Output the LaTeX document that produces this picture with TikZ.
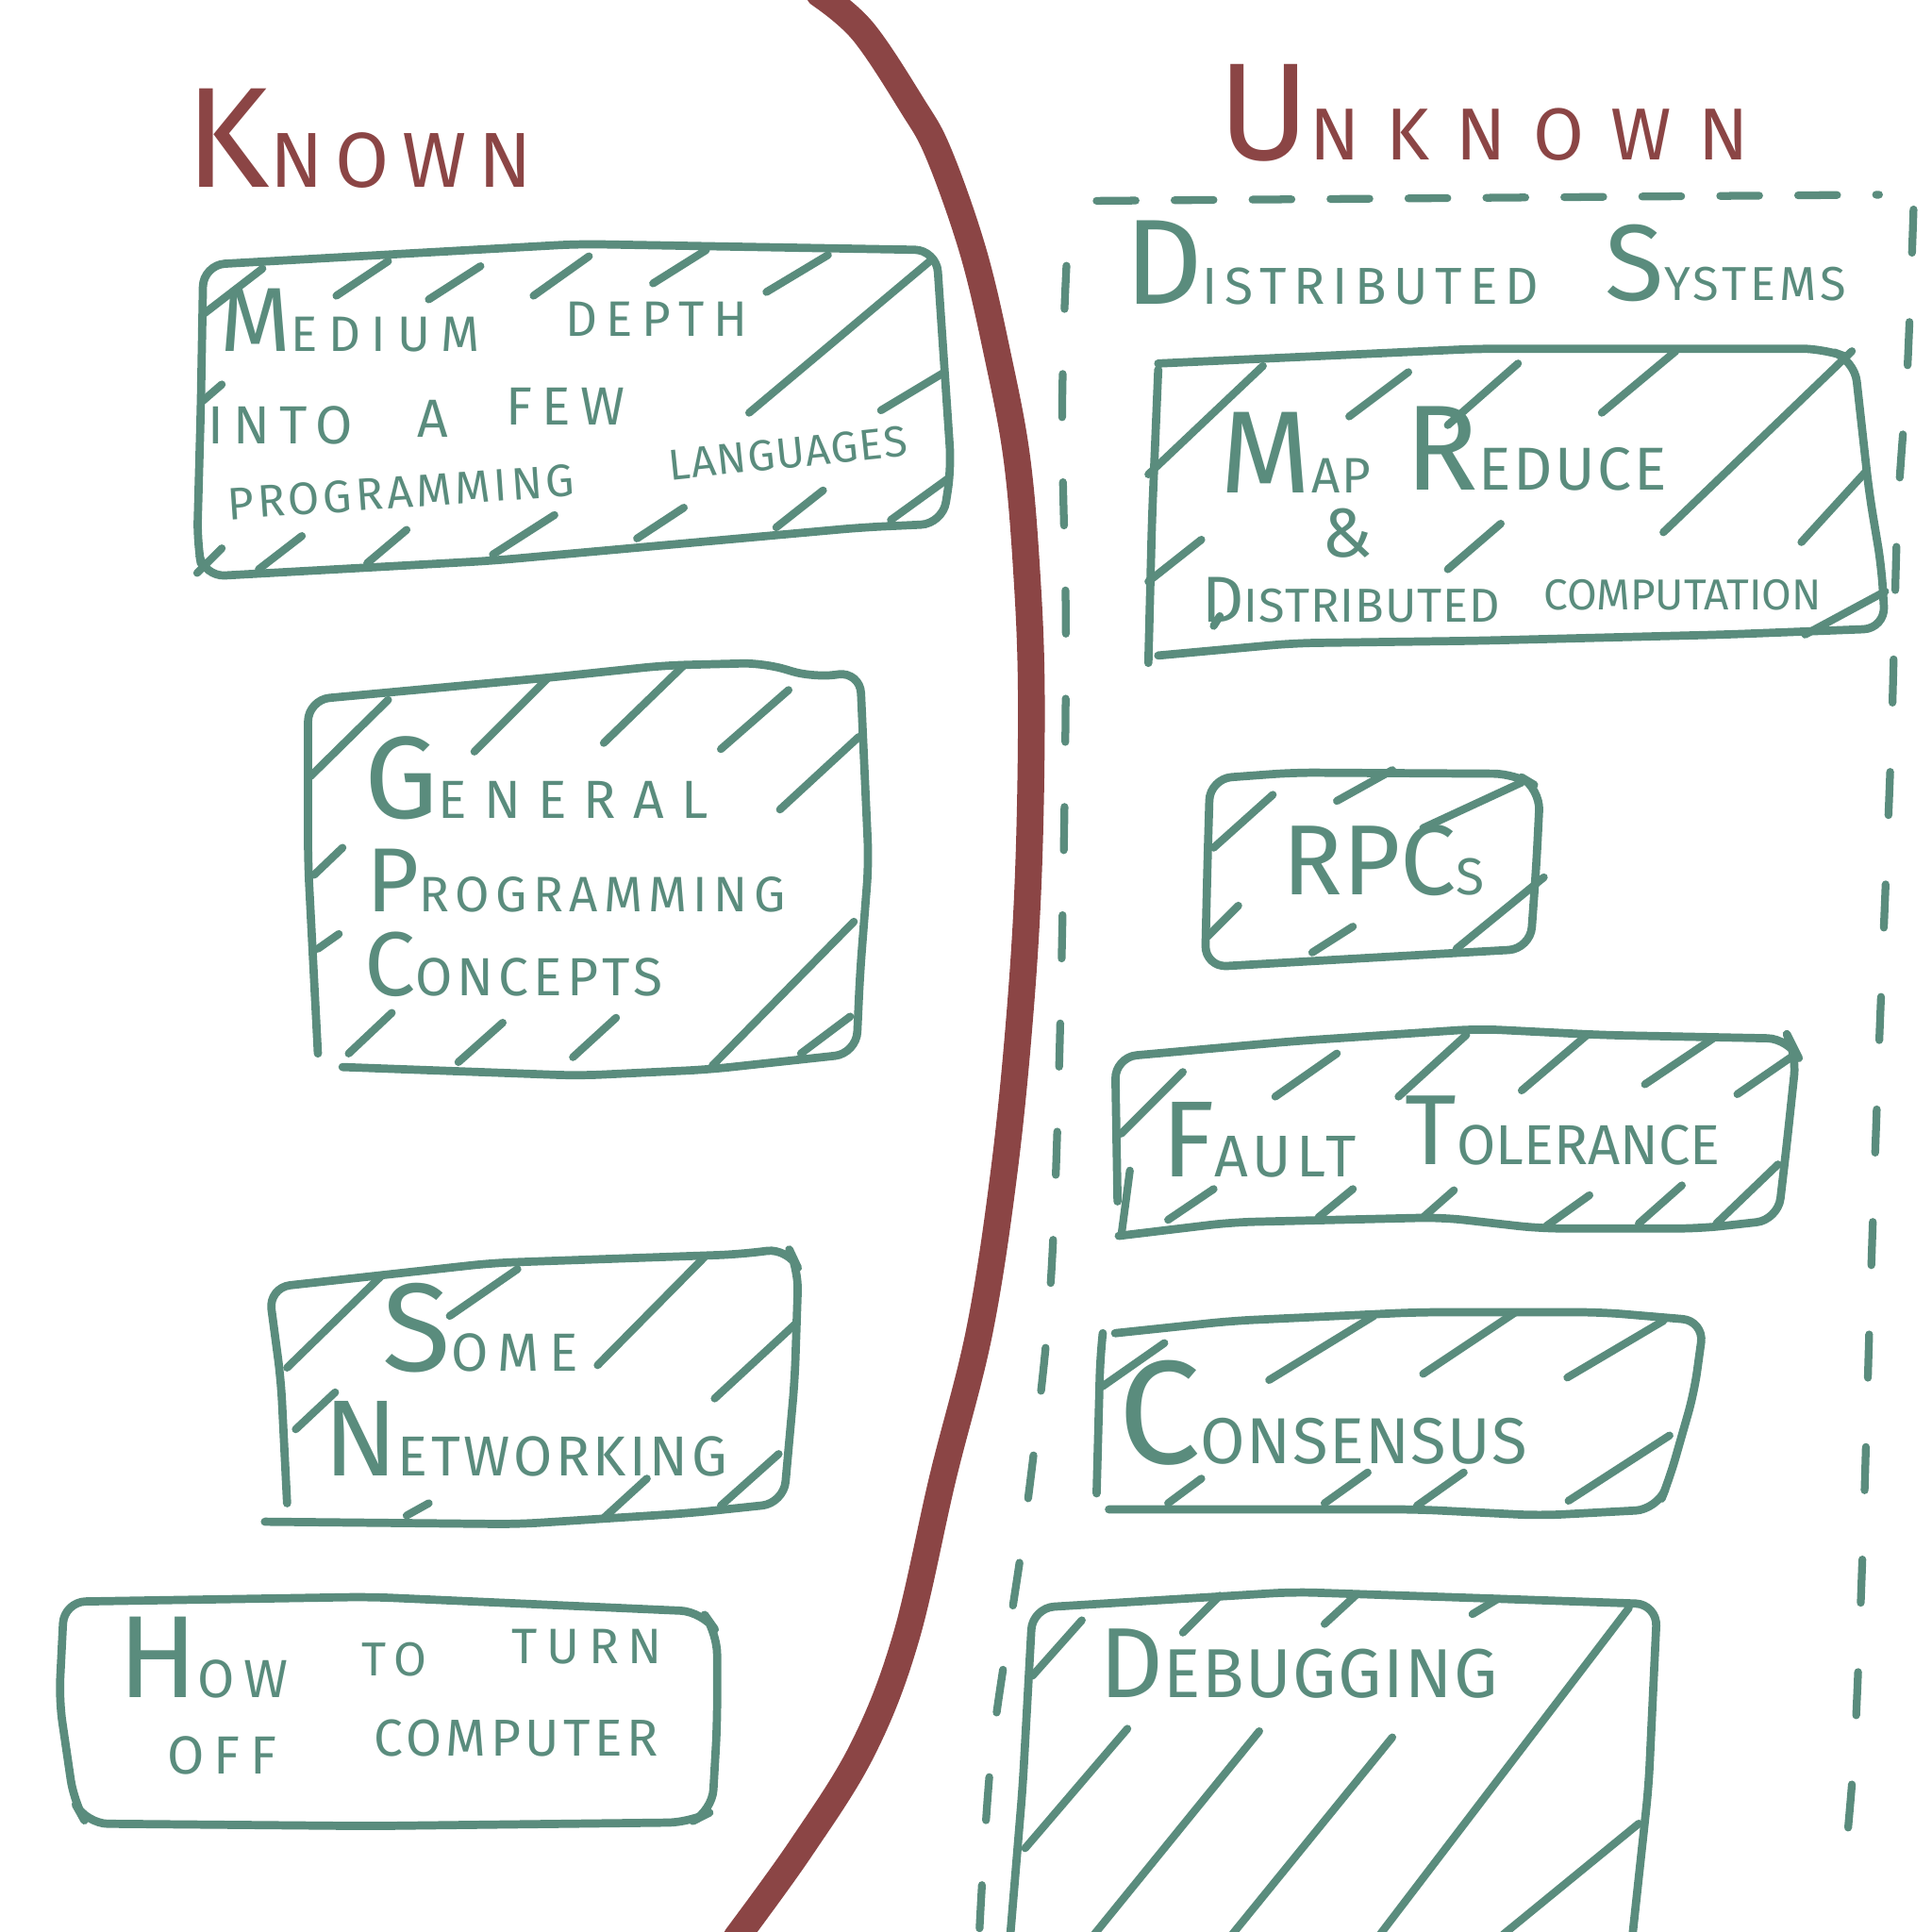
\documentclass[tikz,border=0pt]{standalone}
\usepackage{fontspec}
\newfontfamily\handfont{Fira Sans}[LetterSpace=18]
\definecolor{sketchteal}{HTML}{5A8C7D}
\definecolor{sketchred}{HTML}{8B4545}
\newcommand\fs[3][18]{{\fontsize{#2}{#2}\selectfont\addfontfeature{LetterSpace=#1}#3}}
\tikzset{
  box/.style={draw=sketchteal, line width=1.9pt, line cap=round, line join=round, rounded corners=5pt},
  hatch/.style={draw=sketchteal, line width=1.8pt, line cap=round},
  dashline/.style={draw=sketchteal, line width=1.8pt, line cap=round},
  hand/.style={text=sketchteal, inner sep=0pt, anchor=base west, font=\handfont},
  head/.style={hand, text=sketchred},
}
\begin{document}
\begin{tikzpicture}[x=0.1mm, y=-0.1mm]
\useasboundingbox (0,0) rectangle (1568,1568);

% the divide
\draw[sketchred, line width=6.2pt, line cap=round]
  plot[smooth, tension=0.6] coordinates {(665,-5) (700,25) (740,85) (762,125) (790,205) (810,290) (825,370) (833,460) (837,560) (835,700) (828,820) (815,950) (795,1080) (765,1200) (735,1330) (700,1420) (650,1500) (598,1572)};

% headings
\node[head] (known) at (150,152) {\fs{33}{K}\fs[16]{18}{NOWN}};
\node[head] (unknown) at (988,130) {\fs{32}{U}\fs[36]{17}{NKNOWN}};

% unknown area
\draw[dashline, dash pattern=on 10pt off 15pt]
  plot[smooth, tension=0.5] coordinates {(795,1565) (805,1420) (830,1250) (848,1100) (855,1000) (860,850) (864,650) (865,500) (862,350) (864,250) (868,170)};
\draw[dashline, dash pattern=on 9pt off 9pt]
  (890,163) -- (1525,158);
\draw[dashline, dash pattern=on 10pt off 16pt]
  plot[smooth, tension=0.5] coordinates {(1553,170) (1548,300) (1540,420) (1535,600) (1525,850) (1518,1050) (1512,1250) (1505,1420) (1495,1535)};
\node[hand] (distsys) at (912,247) {\fs{28}{D}\fs[14]{12}{ISTRIBUTED}};
\node[hand] (systems) at (1302,244) {\fs{25}{S}\fs[8]{11}{YSTEMS}};

% medium depth
\draw[box] (165,215) -- (470,198) -- (760,203) -- (772,380) -- (765,425) -- (700,428) -- (400,455) -- (165,468) -- (160,440) -- (163,330) -- cycle;
\foreach \a/\b/\c/\d in {165/255/213/218, 273/240/315/212, 348/243/390/216, 433/240/478/208, 530/230/573/203, 622/237/672/207, 608/335/757/210, 715/333/765/303, 723/422/770/388, 165/325/180/312, 160/465/180/445, 210/462/245/435, 298/457/330/430, 400/450/450/418, 517/437/555/412, 630/428/668/398}
  \draw[hatch] (\a,\b) -- (\c,\d);
\node[hand] (medium) at (178,285) {\fs{21}{M}\fs[22]{11.5}{EDIUM}};
\node[hand] (depth) at (458,273) {\fs{11.5}{DEPTH}};
\node[hand] (into) at (168,360) {\fs{12.4}{INTO}};
\node[hand] (a) at (338,355) {\fs{12.4}{A}};
\node[hand] (few) at (410,345) {\fs{12.4}{FEW}};
\node[hand, rotate=4] (prog) at (185,422) {\fs[8]{10.5}{PROGRAMMING}};
\node[hand, rotate=6] (lang) at (543,390) {\fs[3]{10}{LANGUAGES}};

% general programming
\draw[box] (258,855) -- (250,700) -- (250,568) -- (445,550) -- (540,540) -- (620,538) -- (660,550) -- (698,545) -- (705,700) -- (698,790) -- (695,855) -- (575,868) -- (470,873) -- (278,866);
\foreach \a/\b/\c/\d in {252/630/315/568, 385/610/445/550, 490/603/555/540, 585/608/640/560, 633/657/697/598, 255/710/278/688, 258/770/275/758, 283/855/318/822, 372/862/408/830, 465/858/500/826, 578/865/693/748, 650/855/690/825}
  \draw[hatch] (\a,\b) -- (\c,\d);
\node[hand] (general) at (295,664) {\fs{27}{G}\fs[32]{12.4}{ENERAL}};
\node[hand] (programming) at (297,740) {\fs{21}{P}\fs[12]{11.5}{ROGRAMMING}};
\node[hand] (concepts) at (295,808) {\fs{21}{C}\fs[9]{12.4}{ONCEPTS}};

% some networking
\draw[box] (233,1220) -- (228,1120) -- (218,1045) -- (400,1025) -- (600,1018) -- (640,1013) -- (648,1030) -- (645,1120) -- (636,1220) -- (560,1228) -- (420,1237) -- (215,1235);
\foreach \a/\b/\c/\d in {233/1110/310/1035, 365/1068/420/1030, 485/1108/572/1020, 580/1135/645/1075, 240/1160/272/1130, 330/1230/348/1220, 490/1232/525/1200, 585/1222/632/1180}
  \draw[hatch] (\a,\b) -- (\c,\d);
\node[hand] (some) at (310,1113) {\fs{29}{S}\fs{12.4}{OME}};
\node[hand] (networking) at (262,1198) {\fs{25}{N}\fs[6]{13}{ETWORKING}};

% how to turn off
\draw[box] (52,1300) -- (300,1296) -- (570,1308) -- (582,1325) -- (582,1400) -- (578,1470) -- (560,1479) -- (300,1482) -- (70,1480) -- (60,1462) -- (48,1380) -- cycle;
\node[hand] (how) at (95,1378) {\fs{27}{H}\fs{12.4}{OW}};
\node[hand] (to) at (293,1360) {\fs{11}{TO}};
\node[hand] (turn) at (415,1350) {\fs{11.5}{TURN}};
\node[hand] (off) at (135,1440) {\fs{12.4}{OFF}};
\node[hand] (computer) at (303,1425) {\fs[8]{12}{COMPUTER}};

% mapreduce
\draw[box] (932,538) -- (935,420) -- (940,300);
\draw[box] (940,295) -- (1200,283) -- (1480,283) -- (1505,292) -- (1517,400) -- (1527,460) -- (1530,510) -- (1400,515) -- (1200,520) -- (1050,522) -- (940,532);
\foreach \a/\b/\c/\d in {932/385/1025/297, 1095/338/1143/302, 1175/345/1232/295, 1300/335/1360/285, 1350/432/1503/285, 1462/440/1515/382, 932/472/975/438, 1175/462/1218/425, 1465/515/1530/480, 985/508/990/500}
  \draw[hatch] (\a,\b) -- (\c,\d);
\node[hand] (map) at (990,400) {\fs{27}{M}\fs[4]{11.5}{AP}};
\node[hand] (reduce) at (1140,398) {\fs{28}{R}\fs[4]{14}{EDUCE}};
\node[hand] (amp) at (1072,452) {\fs{16}{\&}};
\node[hand] (distributed) at (975,505) {\fs{15}{D}\fs[2]{11}{ISTRIBUTED}};
\node[hand] (computation) at (1252,495) {\fs[0]{10}{COMPUTATION}};

% rpcs
\draw[box] (982,632) -- (1050,627) -- (1230,628) -- (1250,640) -- (1247,700) -- (1242,770) -- (1100,778) -- (978,785) -- (980,700) -- cycle;
\foreach \a/\b/\c/\d in {985/688/1033/645, 1085/650/1130/625, 1155/672/1235/635, 1182/770/1253/712, 980/760/1005/735, 1065/773/1098/752}
  \draw[hatch] (\a,\b) -- (\c,\d);
\node[hand] (rpcs) at (1040,726) {\fs[0]{23}{RPC}\fs[0]{12}{S}};

% fault tolerance
\draw[box] (907,975) -- (905,858) -- (1050,845) -- (1200,835) -- (1300,840) -- (1452,843) -- (1458,855) -- (1450,930) -- (1443,990) -- (1380,997) -- (1250,997) -- (1170,988) -- (1000,992) -- (908,1003);
\foreach \a/\b/\c/\d in {910/920/960/870, 1035/890/1085/855, 1135/890/1190/840, 1235/885/1288/840, 1335/880/1390/843, 1410/888/1458/855, 948/990/985/965, 1070/988/1098/965, 1155/988/1180/966, 1255/995/1290/970, 1330/993/1365/962, 1393/993/1443/945, 910/1003/917/950}
  \draw[hatch] (\a,\b) -- (\c,\d);
\node[hand] (fault) at (942,955) {\fs{25}{F}\fs[8]{13.6}{AULT}};
\node[hand] (tolerance) at (1140,945) {\fs{23}{T}\fs[0]{13}{OLERANCE}};

% consensus
\draw[box] (890,1212) -- (893,1100) -- (895,1082);
\draw[box] (905,1082) -- (1000,1072) -- (1150,1065) -- (1300,1065) -- (1383,1072) -- (1375,1130) -- (1355,1200) -- (1345,1225) -- (1250,1230) -- (1150,1225) -- (900,1225);
\foreach \a/\b/\c/\d in {895/1125/945/1090, 1030/1120/1115/1068, 1155/1115/1230/1065, 1272/1118/1350/1072, 948/1220/975/1200, 1075/1220/1110/1195, 1150/1222/1188/1195, 1273/1218/1355/1165}
  \draw[hatch] (\a,\b) -- (\c,\d);
\node[hand] (consensus) at (907,1188) {\fs{34}{C}\fs[2]{15}{ONSENSUS}};

% debugging
\draw[box] (820,1570) -- (830,1450) -- (838,1305) -- (1050,1292) -- (1200,1297) -- (1345,1302) -- (1338,1450) -- (1325,1570);
\foreach \a/\b/\c/\d in {838/1360/878/1315, 960/1325/990/1295, 1075/1318/1100/1295, 1195/1310/1215/1298, 832/1500/915/1403, 888/1570/1022/1405, 1000/1570/1130/1410, 1120/1570/1322/1305, 1220/1570/1330/1480}
  \draw[hatch] (\a,\b) -- (\c,\d);
\node[hand] (debugging) at (892,1378) {\fs{23}{D}\fs[2]{16}{EBUGGING}};
\end{tikzpicture}
\end{document}
